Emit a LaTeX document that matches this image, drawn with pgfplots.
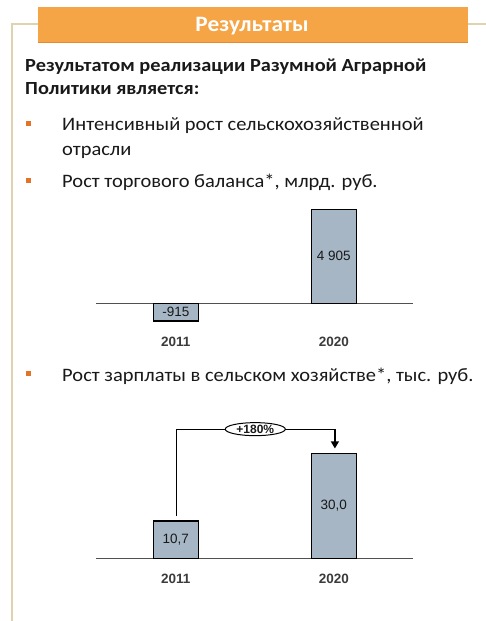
\documentclass[border=0pt]{standalone}
\usepackage{graphicx}
\usepackage{fontspec}
\setmainfont{Carlito}
\newfontfamily\arialf{Liberation Sans}
\usepackage{pgfplots}
\pgfplotsset{compat=1.18}
\usetikzlibrary{arrows.meta,shapes.geometric}
\definecolor{beige}{RGB}{223,210,175}
\definecolor{orangeb}{RGB}{245,165,70}
\definecolor{orangedark}{RGB}{228,140,45}
\definecolor{bul}{RGB}{226,115,40}
\definecolor{txt}{RGB}{25,25,25}
\definecolor{barfill}{RGB}{166,182,197}
\definecolor{axisgray}{RGB}{80,80,80}
\begin{document}
\begin{tikzpicture}
\path[use as bounding box, fill=white] (0pt,0pt) rectangle (486pt,621pt);
\begin{scope}[x=1pt,y=1pt]
% frame
\draw[beige, line width=2pt] (12,0) -- (12,597) -- (486,597);
% banner
\fill[orangeb] (38,578) rectangle (468,614);
\draw[orangedark, line width=1pt] (38,578.5) -- (468,578.5);
\node[anchor=base, text=white, font=\fontsize{22}{24}\selectfont\bfseries, inner sep=0] at (252,589.3) {\scalebox{1.06}[1]{Результаты}};
% headline
\node[anchor=base west, inner sep=0, font=\fontsize{18.5}{20}\selectfont\bfseries, text=txt] at (25,549) {\scalebox{1.1}[1]{Результатом реализации Разумной Аграрной}};
\node[anchor=base west, inner sep=0, font=\fontsize{18.5}{20}\selectfont\bfseries, text=txt] at (25,526.5) {\scalebox{1.1}[1]{Политики является:}};
% bullets
\fill[bul] (26,494.5) rectangle (31,499.5);
\node[anchor=base west, inner sep=0, font=\fontsize{19}{21}\selectfont, text=txt] at (62,490) {\scalebox{1.077}[1]{Интенсивный рост сельскохозяйственной}};
\node[anchor=base west, inner sep=0, font=\fontsize{19}{21}\selectfont, text=txt] at (62,465.3) {\scalebox{1.077}[1]{отрасли}};
\fill[bul] (26,438) rectangle (31,443);
\node[anchor=base west, inner sep=0, font=\fontsize{19}{21}\selectfont, text=txt] at (62,433.3) {\scalebox{1.077}[1]{Рост торгового\ баланса*, млрд. руб.}};
\fill[bul] (26,244.5) rectangle (31,249.5);
\node[anchor=base west, inner sep=0, font=\fontsize{19}{21}\selectfont, text=txt] at (62,239) {\scalebox{1.077}[1]{Рост зарплаты в сельском хозяйстве*, тыс. руб.}};
\end{scope}

% chart 1: trade balance
\begin{axis}[at={(96pt,298.5pt)}, anchor=south west, scale only axis,
  width=316.8pt, height=115pt,
  xmin=-0.505, xmax=1.5, ymin=-1000, ymax=5000,
  axis x line=middle, axis y line=none,
  x axis line style={-, line width=1.5pt, color=axisgray},
  xtick={0,1}, xticklabels={2011,2020}, major tick length=0pt,
  xticklabel style={font=\fontsize{13.5}{14}\selectfont\arialf\bfseries, text=txt!85!white, yshift=-30pt},
  ytick=\empty, clip=false]
\addplot[ybar, bar width=45pt, fill=barfill, draw=black, line width=1.3pt,
  point meta=explicit symbolic, nodes near coords,
  visualization depends on={rawy \as \rawy},
  every node near coord/.append style={anchor=center, inner sep=0pt, text=txt,
    font=\fontsize{13.5}{14}\selectfont\arialf, yshift={-0.5*\rawy*0.019167}}]
  coordinates {(0,-915) [-915] (1,4905) [4 905]};
\end{axis}

% chart 2: wages
\begin{axis}[at={(96pt,62.7pt)}, anchor=south west, scale only axis,
  width=316.8pt, height=140pt,
  xmin=-0.505, xmax=1.5, ymin=0, ymax=40,
  axis x line=middle, axis y line=none,
  x axis line style={-, line width=1.5pt, color=axisgray},
  xtick={0,1}, xticklabels={2011,2020}, major tick length=0pt,
  xticklabel style={font=\fontsize{13.5}{14}\selectfont\arialf\bfseries, text=txt!85!white, yshift=-12pt},
  ytick=\empty, clip=false]
\addplot[ybar, bar width=45pt, fill=barfill, draw=black, line width=1.3pt,
  point meta=explicit symbolic, nodes near coords,
  visualization depends on={rawy \as \rawy},
  every node near coord/.append style={anchor=center, inner sep=0pt, text=txt,
    font=\fontsize{13.5}{14}\selectfont\arialf, yshift={-0.5*\rawy*3.5}}]
  coordinates {(0,10.7) [{10,7}] (1,30.0) [{30,0}]};
\draw[line width=1.2pt, -{Triangle[width=8pt,length=7pt]}]
  (axis cs:0.006,12.1) -- (axis cs:0.006,36.9) -- (axis cs:1.007,36.9) -- (axis cs:1.007,31.4);
\node[ellipse, draw, fill=white, line width=1pt, minimum width=60pt, minimum height=13pt, inner sep=0pt,
  font=\fontsize{12}{12}\selectfont\arialf\bfseries, text=txt] at (axis cs:0.503,36.9) {+180\%};
\end{axis}
\end{tikzpicture}
\end{document}
